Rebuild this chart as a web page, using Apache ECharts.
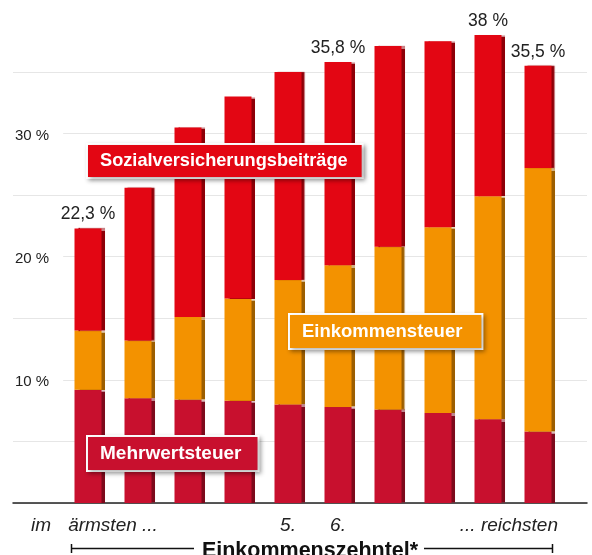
<!DOCTYPE html>
<html><head><meta charset="utf-8">
<script src="https://cdn.jsdelivr.net/npm/echarts@6/dist/echarts.min.js"></script>
<style>html,body{margin:0;padding:0;background:#fff}#c{width:592px;height:555px}</style>
</head><body><div id="c"></div>
<script>
const categories = ['1.','2.','3.','4.','5.','6.','7.','8.','9.','10.'];
const tickLabels = ['ärmsten ...','','','','5.','6.','','','','... reichsten'];
const mehrwertsteuer = [9.2, 8.5, 8.4, 8.3, 8.0, 7.8, 7.6, 7.3, 6.8, 5.8];
const einkommensteuer = [4.8, 4.7, 6.7, 8.3, 10.1, 11.5, 13.2, 15.1, 18.1, 21.4];
const sozialversicherung = [8.3, 12.4, 15.4, 16.4, 16.9, 16.5, 16.3, 15.1, 13.1, 8.3];
const totalLabels = ['22,3 %','','','','','35,8 %','','','38 %','35,5 %'];
const yTickLabels = {10:'10 %', 20:'20 %', 30:'30 %'};

const FONT = '"Liberation Sans", Arial, sans-serif';
const RED = '#E30613', ORANGE = '#F39200', CRIMSON = '#C8102E';

const chart = echarts.init(document.getElementById('c'));
function legendBox(name, color, left, top, fs, padR) {
  return {
    data: [name], left: left, top: top, padding: 0, itemWidth: 0, itemHeight: 0, itemGap: 0,
    icon: 'rect', selectedMode: false,
    textStyle: {
      color: '#fff', fontFamily: FONT, fontWeight: 'bold', fontSize: fs,
      backgroundColor: color, borderColor: '#fff', borderWidth: 2,
      padding: [7, padR, 7, 12],
      shadowColor: 'rgba(0,0,0,0.3)', shadowBlur: 4, shadowOffsetX: 2, shadowOffsetY: 2
    }
  };
}
const xData = categories.map((c, i) => {
  if (i === 0) return {value: c, textStyle: {padding: [0, 0, 0, 13]}};
  if (i === 9) return {value: c, textStyle: {align: 'right', padding: [0, -20, 0, 0]}};
  return c;
});
chart.setOption({
  animation: false,
  textStyle: {fontFamily: FONT},
  grid: [
    {left: 63, right: 29, top: 10.4, bottom: 52, outerBoundsMode: 'none', containLabel: false},
    {left: 13, right: 5, top: 72, bottom: 52, outerBoundsMode: 'none', containLabel: false}
  ],
  legend: [
    legendBox('Sozialversicherungsbeiträge', RED, 83, 143, 18.2, 14),
    legendBox('Einkommensteuer', ORANGE, 285, 313, 18.5, 19),
    legendBox('Mehrwertsteuer', CRIMSON, 83, 435, 19, 16)
  ],
  xAxis: [
    {
      type: 'category', gridIndex: 0, data: xData,
      axisLine: {show: false}, axisTick: {show: false},
      axisLabel: {
        interval: 0, margin: 13, color: '#222', fontSize: 19, fontStyle: 'italic',
        formatter: (v, i) => i === 0 ? '{im|im}' + tickLabels[i] : tickLabels[i],
        rich: {im: {fontSize: 19, fontStyle: 'italic', color: '#222', padding: [0, 17, 0, 0]}}
      },
      name: 'Einkommenszehntel*', nameLocation: 'middle', nameGap: 37,
      nameTextStyle: {fontSize: 21.5, fontWeight: 'bold', color: '#111', padding: [0, 6, 0, 0]}
    },
    {
      type: 'value', gridIndex: 1, min: 0, max: 1, show: true,
      axisLine: {show: true, onZero: false, lineStyle: {color: '#222', width: 1.5}},
      axisTick: {show: false}, axisLabel: {show: false}, splitLine: {show: false}
    }
  ],
  yAxis: [
    {type: 'value', gridIndex: 0, min: 0, max: 40, interval: 5, show: false, splitLine: {show: false}},
    {
      type: 'value', gridIndex: 1, min: 0, max: 35, interval: 5,
      axisLine: {show: false}, axisTick: {show: false},
      splitLine: {show: true, lineStyle: {color: '#e6e6e6', width: 1}},
      axisLabel: {
        inside: true, margin: 0, color: '#222', fontSize: 15,
        formatter: v => yTickLabels[v] ? '{l|' + yTickLabels[v] + '}' : '',
        rich: {l: {fontSize: 15, color: '#222', backgroundColor: '#fff', padding: [4, 14, 0, 2]}}
      }
    }
  ],
  series: [
    {
      name: 'Mehrwertsteuer', type: 'bar', stack: 't', barWidth: 27, data: mehrwertsteuer,
      itemStyle: {color: CRIMSON, shadowColor: '#7d0a1c', shadowOffsetX: 3, shadowBlur: 1}
    },
    {
      name: 'Einkommensteuer', type: 'bar', stack: 't', barWidth: 27, data: einkommensteuer,
      itemStyle: {color: ORANGE, shadowColor: '#9c5e00', shadowOffsetX: 3, shadowBlur: 1}
    },
    {
      name: 'Sozialversicherungsbeiträge', type: 'bar', stack: 't', barWidth: 27, data: sozialversicherung,
      itemStyle: {color: RED, shadowColor: '#8e0008', shadowOffsetX: 3, shadowBlur: 1},
      label: {
        show: true, position: 'top', distance: 5, color: '#222', fontSize: 17.5,
        formatter: p => totalLabels[p.dataIndex]
      }
    }
  ],
  graphic: [
    {type: 'line', shape: {x1: 71, y1: 548.5, x2: 194, y2: 548.5}, style: {stroke: '#111', lineWidth: 1.5}},
    {type: 'line', shape: {x1: 71.5, y1: 544, x2: 71.5, y2: 553}, style: {stroke: '#111', lineWidth: 1.5}},
    {type: 'line', shape: {x1: 424, y1: 548.5, x2: 553, y2: 548.5}, style: {stroke: '#111', lineWidth: 1.5}},
    {type: 'line', shape: {x1: 552.5, y1: 544, x2: 552.5, y2: 553}, style: {stroke: '#111', lineWidth: 1.5}}
  ]
});
</script></body></html>
